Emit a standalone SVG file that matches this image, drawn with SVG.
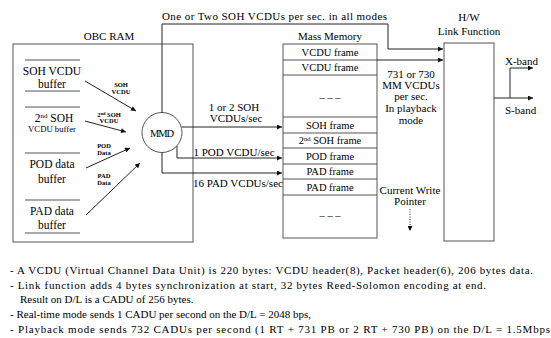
<svg xmlns="http://www.w3.org/2000/svg" width="551" height="338" viewBox="0 0 551 338" font-family="Liberation Serif, serif">
<style>
text{font-family:"Liberation Serif",serif;fill:#000}
.t11{font-size:11px}
.t10{font-size:10.5px}
.t12{font-size:11.5px}
.sm{font-size:6.5px;font-weight:bold}
.c{text-anchor:middle}
.box{fill:#fff;stroke:#555;stroke-width:1}
.ln{stroke:#555;stroke-width:1;fill:none}
.cn{stroke:#222;stroke-width:1;fill:none;marker-end:url(#ah)}
</style>
<defs>
<marker id="ah" viewBox="0 0 6 6" refX="6" refY="3" markerWidth="6" markerHeight="5" markerUnits="userSpaceOnUse" orient="auto">
<path d="M0,0 L6,3 L0,6 z" fill="#111"/>
</marker>
</defs>
<rect width="551" height="338" fill="#fff"/>

<g id="obc-ram">
<rect class="box" x="13" y="44" width="180" height="198"/>
<text class="t11 c" x="109" y="40">OBC RAM</text>
</g>

<g id="soh-buffer">
<line class="ln" x1="25" y1="60" x2="80" y2="60"/>
<line class="ln" x1="25" y1="91" x2="80" y2="91"/>
<text class="t12 c" x="52" y="75">SOH VCDU</text>
<text class="t12 c" x="52" y="88">buffer</text>
</g>

<g id="soh2-buffer">
<line class="ln" x1="25" y1="107" x2="80" y2="107"/>
<text class="t12 c" x="54" y="122">2<tspan font-size="7" dy="-4">nd</tspan><tspan dy="4"> SOH</tspan></text>
<text class="c" font-size="8.7" x="52" y="132">VCDU buffer</text>
</g>

<g id="pod-buffer">
<line class="ln" x1="25" y1="153" x2="80" y2="153"/>
<text class="t12 c" x="52" y="168">POD data</text>
<text class="t12 c" x="52" y="183">buffer</text>
</g>

<g id="pad-buffer">
<line class="ln" x1="25" y1="200" x2="80" y2="200"/>
<line class="ln" x1="25" y1="233" x2="80" y2="233"/>
<text class="t12 c" x="52" y="215">PAD data</text>
<text class="t12 c" x="52" y="229">buffer</text>
</g>

<g id="mmd">
<circle cx="162" cy="132.5" r="20" fill="#fff" stroke="#555"/>
<text class="c" font-size="10.5" x="162" y="137" textLength="24">MMD</text>
</g>

<g id="mass-memory">
<rect class="box" x="283" y="44" width="94" height="194"/>
<text class="t11 c" x="330" y="40">Mass Memory</text>
<line class="ln" x1="283" y1="60" x2="377" y2="60"/>
<line class="ln" x1="283" y1="75" x2="377" y2="75"/>
<line class="ln" x1="283" y1="117" x2="377" y2="117"/>
<line class="ln" x1="283" y1="133" x2="377" y2="133"/>
<line class="ln" x1="283" y1="148" x2="377" y2="148"/>
<line class="ln" x1="283" y1="164" x2="377" y2="164"/>
<line class="ln" x1="283" y1="179" x2="377" y2="179"/>
<line class="ln" x1="283" y1="195" x2="377" y2="195"/>
<text class="t10 c" x="330" y="56">VCDU frame</text>
<text class="t10 c" x="330" y="71">VCDU frame</text>
<text class="t10 c" x="330" y="101">– – –</text>
<text class="t10 c" x="330" y="129">SOH frame</text>
<text class="t10 c" x="330" y="144">2<tspan font-size="6.5" dy="-3.5">nd</tspan><tspan dy="3.5"> SOH frame</tspan></text>
<text class="t10 c" x="330" y="160">POD frame</text>
<text class="t10 c" x="330" y="175">PAD frame</text>
<text class="t10 c" x="330" y="191">PAD frame</text>
<text class="t10 c" x="330" y="219">– – –</text>
</g>

<g id="hw-link">
<rect class="box" x="444" y="43" width="50" height="198"/>
<text class="t11 c" x="469" y="21">H/W</text>
<text class="t11 c" x="469" y="35">Link Function</text>
</g>

<g id="connectors">
<line class="cn" x1="85" y1="81" x2="136" y2="111"/>
<line class="cn" x1="85" y1="121" x2="126" y2="132"/>
<line class="cn" x1="86" y1="168" x2="130" y2="148"/>
<line class="cn" x1="86" y1="215" x2="140" y2="163"/>
<path class="cn" d="M162,112.5 V24 H388 V49 H443"/>
<path class="cn" d="M182,127 H282"/>
<path class="cn" d="M177,146 V158 H282"/>
<path class="cn" d="M162,152.5 V173 H282"/>
<path class="cn" d="M377,60 H443"/>
<path class="cn" d="M494,98 H533"/>
<path class="cn" d="M510,98 V68 H533"/>
<path class="cn" d="M410,209 V231" stroke-dasharray="1,1.5"/>
</g>

<g id="labels">
<text class="t11" x="162" y="20" textLength="225">One or Two SOH VCDUs per sec. in all modes</text>
<text class="sm c" x="121" y="87">SOH</text>
<text class="sm c" x="121" y="94">VCDU</text>
<text class="sm c" x="109" y="117">2<tspan font-size="4.5" dy="-2">nd</tspan><tspan dy="2"> SOH</tspan></text>
<text class="sm c" x="109" y="123">VCDU</text>
<text class="sm c" x="104" y="148">POD</text>
<text class="sm c" x="104" y="155">Data</text>
<text class="sm c" x="104" y="178">PAD</text>
<text class="sm c" x="104" y="185">Data</text>
<text class="t11 c" x="234" y="111">1 or 2  SOH</text>
<text class="t11 c" x="236" y="122">VCDUs/sec</text>
<text class="t11 c" x="234" y="156">1 POD VCDU/sec</text>
<text class="t11 c" x="238" y="187">16 PAD VCDUs/sec</text>
<text class="t11 c" x="411" y="78">731 or 730</text>
<text class="t11 c" x="411" y="89">MM VCDUs</text>
<text class="t11 c" x="411" y="100">per sec.</text>
<text class="t11 c" x="411" y="112">In playback</text>
<text class="t11 c" x="411" y="124">mode</text>
<text class="t11 c" x="410" y="194">Current Write</text>
<text class="t11 c" x="410" y="205">Pointer</text>
<text class="t11" x="505" y="65">X-band</text>
<text class="t11" x="505" y="114">S-band</text>
</g>

<g id="notes">
<text class="t11" x="10" y="274" textLength="523">- A VCDU (Virtual Channel Data Unit) is 220 bytes: VCDU header(8), Packet header(6), 206 bytes data.</text>
<text class="t11" x="10" y="289" textLength="476">- Link function adds 4 bytes synchronization at start, 32 bytes Reed-Solomon encoding at end.</text>
<text class="t11" x="20" y="303">Result on D/L is a CADU of 256 bytes.</text>
<text class="t11" x="10" y="318">- Real-time mode sends 1 CADU per second on the D/L = 2048 bps,</text>
<text class="t11" x="10" y="333" textLength="540">- Playback mode sends 732 CADUs per second (1 RT + 731 PB or 2 RT + 730 PB) on the D/L = 1.5Mbps</text>
</g>
</svg>
